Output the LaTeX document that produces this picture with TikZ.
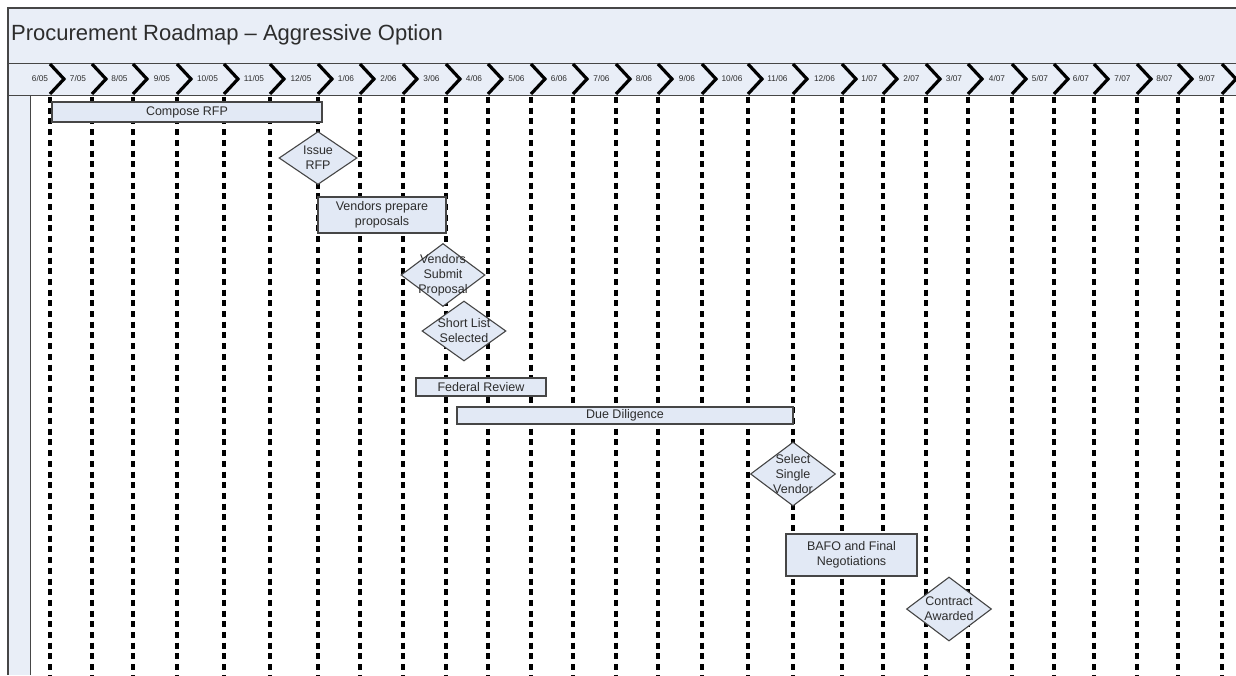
\documentclass[tikz,border=0pt]{standalone}
\usepackage{fontspec}
\setmainfont{Liberation Sans}
\usetikzlibrary{shapes.geometric}
\definecolor{bandfill}{RGB}{233,238,247}
\definecolor{boxfill}{RGB}{226,233,245}
\definecolor{framegray}{RGB}{70,70,70}
\definecolor{txt}{RGB}{45,45,45}
\begin{document}
\begin{tikzpicture}[x=1pt,y=-1pt,
  taskbox/.style={draw=framegray,line width=1.1pt,fill=boxfill,inner sep=0pt,
    font=\fontsize{12.5}{14.5}\selectfont,text=txt,align=center},
  milestone/.style={draw=framegray,line width=1.1pt,fill=boxfill,diamond,inner sep=0pt},
  mtext/.style={font=\fontsize{12.5}{15}\selectfont,text=txt,align=center,inner sep=0pt},
  gridline/.style={line width=3.3pt,dash pattern=on 6pt off 4.7pt},
  chevron/.style={line width=3.2pt,line join=miter},
  datelabel/.style={font=\fontsize{8.3}{9}\selectfont,text=txt,inner sep=0pt}]
\useasboundingbox (0,0) rectangle (1236,675);
\fill[white] (0,0) rectangle (1236,675);
% bands
\fill[bandfill] (8,8) rectangle (1236,63);
\fill[bandfill] (8,63) rectangle (1236,95);
\fill[bandfill] (8,95) rectangle (30,675);
\draw[framegray,line width=1.3pt] (1236,8) -- (8,8) -- (8,675);
\draw[framegray,line width=1pt] (8,63) -- (1236,63);
\draw[framegray,line width=1pt] (8,95) -- (1236,95);
\draw[framegray,line width=1pt] (30,95) -- (30,675);
% title
\node[anchor=west,font=\fontsize{22}{26}\selectfont,text=txt,inner sep=0pt] (title) at (11,35) {Procurement Roadmap -- Aggressive Option};
% grid lines and chevrons
\foreach \x in {50,92,133,177,224,270,318,360,403,446,488,531,573,616,658,702,748,793,842,883,926,968,1012,1054,1094,1137,1178,1222}{
  \draw[gridline] (\x,97) -- (\x,675);
  \draw[chevron] (\x,64) -- (\x+14,79) -- (\x,94);
}
% date labels
\foreach \lx/\lt in {40/6\slash 05,78/7\slash 05,119.5/8\slash 05,162/9\slash 05,207.5/10\slash 05,254/11\slash 05,301/12\slash 05,346/1\slash 06,388.5/2\slash 06,431.5/3\slash 06,474/4\slash 06,516.5/5\slash 06,559/6\slash 06,601.5/7\slash 06,644/8\slash 06,687/9\slash 06,732/10\slash 06,777.5/11\slash 06,824.5/12\slash 06,869.5/1\slash 07,911.5/2\slash 07,954/3\slash 07,997/4\slash 07,1040/5\slash 07,1081/6\slash 07,1122.5/7\slash 07,1164.5/8\slash 07,1207/9\slash 07}{
  \node[datelabel] at (\lx,79) {\lt};
}
% tasks
\node[taskbox,minimum width=270pt,minimum height=20pt] (compose) at (187,112) {Compose RFP};
\node[milestone,minimum width=78pt,minimum height=53pt] (issue) at (318,158) {};
\node[mtext] (issuet) at (issue.center) {Issue\\RFP};
\node[taskbox,minimum width=128pt,minimum height=36pt] (vprep) at (382,215) {Vendors prepare\\proposals};
\node[milestone,minimum width=84pt,minimum height=63pt] (vsub) at (443,275) {};
\node[mtext] (vsubt) at (vsub.center) {Vendors\\Submit\\Proposal};
\node[milestone,minimum width=84pt,minimum height=60pt] (short) at (464,331) {};
\node[mtext] (shortt) at (short.center) {Short List\\Selected};
\node[taskbox,minimum width=130pt,minimum height=18pt] (fed) at (481,387) {Federal Review};
\node[taskbox,minimum width=336pt,minimum height=17pt] (due) at (625,415.5) {Due Diligence};
\node[milestone,minimum width=85pt,minimum height=64pt] (sel) at (793,474) {};
\node[mtext] (selt) at (sel.center) {Select\\Single\\Vendor};
\node[taskbox,minimum width=131pt,minimum height=42pt] (bafo) at (851.5,555) {BAFO and Final\\Negotiations};
\node[milestone,minimum width=85pt,minimum height=64pt] (contract) at (949,609) {};
\node[mtext] (contractt) at (contract.center) {Contract\\Awarded};
\end{tikzpicture}
\end{document}
